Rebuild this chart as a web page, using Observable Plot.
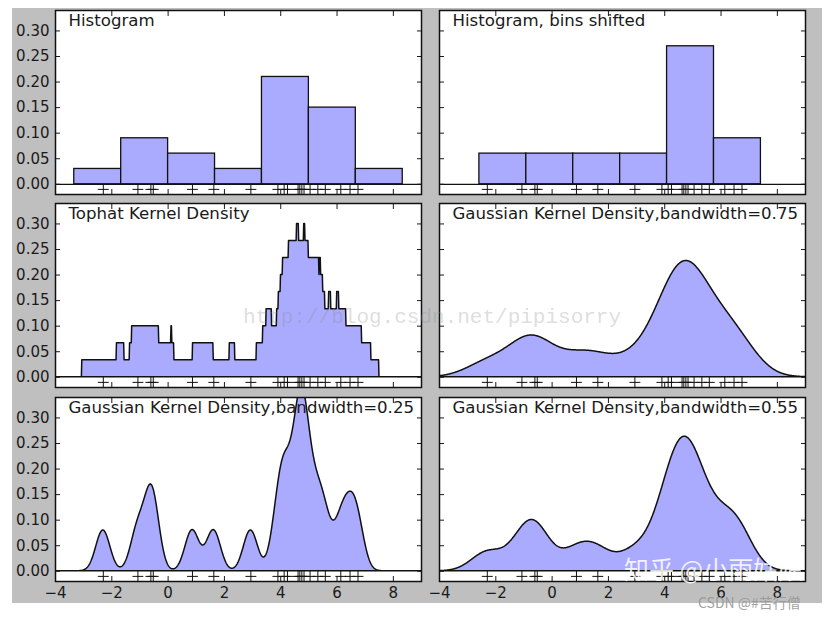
<!DOCTYPE html>
<html><head><meta charset="utf-8">
<script src="https://cdn.jsdelivr.net/npm/d3@7"></script>
<script src="https://cdn.jsdelivr.net/npm/@observablehq/plot@0.6"></script>
<style>
body{margin:0;background:#fff;}
#fig{position:relative;width:831px;height:618px;background:#fff;overflow:hidden;font-family:"DejaVu Sans",sans-serif;}
#bg{position:absolute;left:12px;top:8px;width:810px;height:595px;background:#bfbfbf;}
.panel{position:absolute;}
.wm{position:absolute;white-space:nowrap;pointer-events:none;}
</style></head><body>
<div id="fig"><div id="bg"></div></div>
<script>
// sample points (the "+" marks)
const samples = [1.624, -0.612, -0.528, -1.073, 0.865, -2.302, 6.745, 4.239, 5.319, 4.751,
                 6.462, 2.940, 4.678, 4.616, 6.134, 3.900, 4.828, 4.122, 5.042, 5.583];
const histBins = [-5, -3.3333, -1.6667, 0, 1.6667, 3.3333, 5, 6.6667, 8.3333, 10];
const shiftedBins = [-4.25, -2.5833, -0.9167, 0.75, 2.4167, 4.0833, 5.75, 7.4167, 9.0833, 10.75];
const titles = ["Histogram", "Histogram, bins shifted", "Tophat Kernel Density",
  "Gaussian Kernel Density,bandwidth=0.75", "Gaussian Kernel Density,bandwidth=0.25",
  "Gaussian Kernel Density,bandwidth=0.55"];
const tophatBandwidth = 0.75;
const gaussianBandwidths = [0.75, 0.25, 0.55];
const xTicks = [-4, -2, 0, 2, 4, 6, 8];
const yTicks = [0, 0.05, 0.10, 0.15, 0.20, 0.25, 0.30];
const xDomain = [-4, 9];
const yDomain = [-0.02, 0.34];
const watermarks = ["http://blog.csdn.net/pipisorry", "知乎 @小雨姑娘", "CSDN @#苦行僧"];

// evaluation grid for the density estimates
const grid = d3.range(1000).map(i => -5 + 15 * i / 999);
const N = samples.length;
const gaussianKDE = h => grid.map(x => ({x, y: d3.sum(samples, s => Math.exp(-0.5 * ((x - s) / h) ** 2)) / (N * h * Math.sqrt(2 * Math.PI))}));
const tophatKDE = h => grid.map(x => ({x, y: samples.filter(s => Math.abs(x - s) < h).length / (N * 2 * h)}));

const FILL = "#AAAAFF";
const fmtX = d => String(d).replace("-", "\u2212");
const fmtY = d3.format(".2f");

function histMarks(bins) {
  const w = bins[1] - bins[0];
  return [
    Plot.rectY(samples, Plot.binX({y: {reduce: I => I.length / (N * w)}},
      {x: d => d, thresholds: bins, fill: FILL, stroke: "#111", strokeWidth: 1.3, inset: 0})),
    Plot.ruleY([0], {stroke: "#111", strokeWidth: 1.3})
  ];
}
function areaMarks(data) {
  return [Plot.areaY(data, {x: "x", y: "y", fill: FILL, stroke: "#111", strokeWidth: 1.5, clip: true})];
}

function panel(marks, title, col, row) {
  const showY = col === 0, showX = row === 2;
  const ml = showY ? 55 : 5;
  const svg = Plot.plot({
    width: ml + 366 + 5, height: 10 + 184 + 30,
    marginLeft: ml, marginRight: 5, marginTop: 10, marginBottom: 30,
    x: {domain: xDomain, label: null},
    y: {domain: yDomain, label: null},
    style: {background: "transparent", overflow: "visible", fontFamily: "DejaVu Sans", color: "#1a1a1a"},
    marks: [
      Plot.frame({fill: "white"}),
      ...marks,
      Plot.dot(samples, {x: d => d, y: () => -0.01, symbol: "plus", r: 3.6, stroke: "#111", strokeWidth: 1}),
      Plot.axisX(xTicks, {anchor: "bottom", tickSize: -5, tickFormat: () => "", label: null}),
      Plot.axisX(xTicks, {anchor: "top", tickSize: -5, tickFormat: () => "", label: null}),
      Plot.axisY(yTicks, {anchor: "left", tickSize: -5, tickFormat: () => "", label: null}),
      Plot.axisY(yTicks, {anchor: "right", tickSize: -5, tickFormat: () => "", label: null}),
      showX ? Plot.axisX(xTicks, {anchor: "bottom", tickSize: 0, tickPadding: 6, fontSize: 15, tickFormat: fmtX, label: null}) : null,
      showY ? Plot.axisY(yTicks, {anchor: "left", tickSize: 0, tickPadding: 6, fontSize: 15, tickFormat: fmtY, label: null}) : null,
      Plot.text([title], {text: d => d, frameAnchor: "top-left", dx: 13, dy: 4, lineAnchor: "top", textAnchor: "start", fontSize: 16.6, fill: "#1a1a1a"}),
      Plot.frame({stroke: "#111", strokeWidth: 1.5})
    ]
  });
  const wrap = document.createElement("div");
  wrap.className = "panel";
  wrap.style.left = (col === 0 ? 0 : 434) + "px";
  wrap.style.top = [0, 193, 387][row] + "px";
  wrap.appendChild(svg);
  document.getElementById("fig").appendChild(wrap);
}

panel(histMarks(histBins), titles[0], 0, 0);
panel(histMarks(shiftedBins), titles[1], 1, 0);
panel(areaMarks(tophatKDE(tophatBandwidth)), titles[2], 0, 1);
panel(areaMarks(gaussianKDE(gaussianBandwidths[0])), titles[3], 1, 1);
panel(areaMarks(gaussianKDE(gaussianBandwidths[1])), titles[4], 0, 2);
panel(areaMarks(gaussianKDE(gaussianBandwidths[2])), titles[5], 1, 2);

// watermarks
const fig = document.getElementById("fig");
function wm(text, css) {
  const d = document.createElement("div");
  d.className = "wm"; d.textContent = text;
  Object.assign(d.style, css);
  fig.appendChild(d);
}
wm(watermarks[0], {left: "243px", top: "306px", fontFamily: "Liberation Mono, DejaVu Sans Mono, monospace", fontSize: "21px", color: "rgba(140,140,140,0.3)"});
wm(watermarks[1], {left: "624px", top: "550px", fontFamily: "Noto Sans CJK SC, sans-serif", fontSize: "25px", color: "rgba(255,255,255,0.85)"});
wm(watermarks[2], {left: "698px", top: "594px", fontFamily: "Noto Sans CJK SC, sans-serif", fontSize: "14px", lineHeight: "16px", color: "rgba(150,150,150,0.9)"});
</script>
</body></html>
